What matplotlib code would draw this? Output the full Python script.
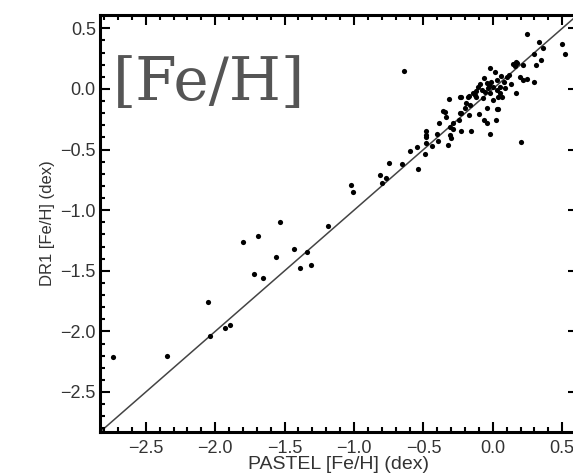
import matplotlib.pyplot as plt
from matplotlib.ticker import MultipleLocator

# PASTEL vs DR1 metallicity
pastel = [-2.735, -2.35, -2.05, -2.04, -1.93, -1.895, -1.80, -1.69, -1.72, -1.655,
          -1.535, -1.56, -1.43, -1.34, -1.39, -1.31, -1.19, -1.02, -1.01, -0.81,
          -0.77, -0.80, -0.75, -0.654, -0.637, -0.594, -0.546, -0.486, -0.54, -0.48,
          -0.483, -0.48, -0.40, -0.44, -0.36, -0.34, -0.387, -0.286, -0.247, -0.31,
          -0.286, -0.226, -0.154, -0.31, -0.30, -0.32, -0.315, -0.24, -0.18, -0.13,
          -0.19, -0.20, -0.226, -0.17, -0.10, -0.045, 0.04, -0.06, -0.04, 0.02,
          -0.02, 0.20, 0.243, 0.33, 0.50, 0.36, 0.30, 0.52, 0.35, 0.31,
          0.175, 0.16, 0.12, 0.10, 0.195, 0.243, 0.22, 0.30, 0.128, 0.17,
          0.03, 0.05, 0.04, -0.02, 0.014, 0.06, 0.147, 0.17, 0.22, -0.094,
          -0.106, -0.045, -0.01, 0.002, -0.034, 0.027, -0.058, -0.022, 0.05, -0.142,
          -0.118, -0.07, 0.063, 0.002, -0.395, -0.238, -0.166, -0.17, 0.027, -0.226,
          -0.48, -0.346, -0.08, -0.03, 0.08, -0.12, 0.09, -0.06]
dr1 = [-2.21, -2.20, -1.76, -2.04, -1.97, -1.95, -1.26, -1.21, -1.53, -1.56,
       -1.10, -1.39, -1.32, -1.345, -1.48, -1.45, -1.13, -0.79, -0.85, -0.71,
       -0.735, -0.78, -0.61, -0.62, 0.15, -0.51, -0.475, -0.535, -0.66, -0.343,
       -0.38, -0.40, -0.37, -0.47, -0.18, -0.228, -0.283, -0.277, -0.26, -0.31,
       -0.33, -0.343, -0.35, -0.38, -0.406, -0.46, -0.085, -0.068, -0.063, -0.05,
       -0.118, -0.16, -0.20, -0.214, -0.206, -0.16, -0.167, -0.255, -0.28, -0.255,
       -0.37, -0.434, 0.45, 0.39, 0.37, 0.335, 0.29, 0.285, 0.24, 0.195,
       0.21, 0.19, 0.115, 0.096, 0.096, 0.08, 0.074, 0.058, 0.039, -0.036,
       0.074, 0.014, -0.063, 0.17, 0.137, 0.107, 0.206, 0.225, 0.198, 0.04,
       0.019, 0.047, 0.06, 0.019, 0.006, -0.008, -0.022, -0.036, -0.036, -0.036,
       -0.063, -0.077, -0.063, -0.09, -0.43, -0.195, -0.13, -0.057, -0.167, -0.063,
       -0.45, -0.187, -0.01, 0.03, 0.06, -0.02, 0.01, 0.09]

lims = [-2.83, 0.61]

plt.rcParams['font.family'] = ['Liberation Sans', 'DejaVu Sans']

fig = plt.figure(figsize=(5.73, 4.74), dpi=100)
ax = fig.add_axes([100 / 573, 42 / 474, 477.5 / 573, 417 / 474])

ax.plot(lims, lims, color='#444444', lw=1.1, zorder=1)
ax.scatter(pastel, dr1, s=14, color='black', zorder=2, linewidths=0)

ax.set_xlim(lims)
ax.set_ylim(lims)
ax.xaxis.set_major_locator(MultipleLocator(0.5))
ax.yaxis.set_major_locator(MultipleLocator(0.5))
ax.xaxis.set_minor_locator(MultipleLocator(0.1))
ax.yaxis.set_minor_locator(MultipleLocator(0.1))
ax.tick_params(which='both', direction='in', top=True, right=True, width=1.5,
               colors='black', labelcolor='#333333', labelsize=13)
ax.tick_params(which='major', length=7)
ax.tick_params(which='minor', length=3.5)
ax.tick_params(axis='x', pad=6)
ax.tick_params(axis='y', pad=3)
for sp in ax.spines.values():
    sp.set_linewidth(2.2)

ax.set_xlabel('PASTEL [Fe/H] (dex)', fontsize=14, color='#333333', labelpad=-1)
ax.set_ylabel('DR1 [Fe/H] (dex)', fontsize=12, color='#333333', labelpad=4)

fig.text(113 / 573, 1 - 100 / 474, '[Fe/H]', family='DejaVu Serif', fontsize=43,
         color='#555555', va='baseline', ha='left')

fig.savefig('out.png', dpi=100)
